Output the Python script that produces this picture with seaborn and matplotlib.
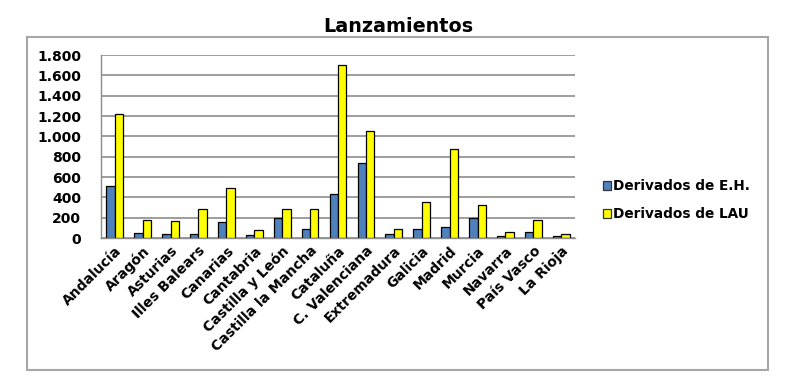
import numpy as np
import pandas as pd
import matplotlib
matplotlib.use("Agg")
import matplotlib.pyplot as plt
from matplotlib.ticker import FuncFormatter, FixedLocator
from matplotlib.patches import Rectangle
import seaborn as sns

regiones = ["Andalucía", "Aragón", "Asturias", "Illes Balears", "Canarias",
            "Cantabria", "Castilla y León", "Castilla la Mancha", "Cataluña",
            "C. Valenciana", "Extremadura", "Galicia", "Madrid", "Murcia",
            "Navarra", "País Vasco", "La Rioja"]
derivados_eh = [512, 49, 36, 40, 155, 33, 194, 92, 437, 742, 36, 89, 112, 197, 20, 56, 20]
derivados_lau = [1225, 174, 168, 283, 493, 76, 289, 289, 1701, 1058, 90, 355, 873, 322, 56, 181, 36]
series = ["Derivados de E.H.", "Derivados de LAU"]
colores = ["#4F81BD", "#FFFF00"]

df = pd.DataFrame({
    "region": regiones * 2,
    "valor": derivados_eh + derivados_lau,
    "serie": [series[0]] * len(regiones) + [series[1]] * len(regiones),
})

sns.set_style("white")
plt.rcParams["font.family"] = ["DejaVu Sans"]
plt.rcParams["text.color"] = "black"
plt.rcParams["xtick.color"] = "black"
plt.rcParams["ytick.color"] = "black"

fig = plt.figure(figsize=(8, 3.91), dpi=100)
ax = fig.add_axes([0.126, 0.391, 0.593, 0.468])

sns.barplot(data=df, x="region", y="valor", hue="serie", palette=colores,
            width=0.6, saturation=1, edgecolor="black", linewidth=0.9, ax=ax, legend=False)

ax.set_ylim(0, 1800)
ax.set_xlim(-0.5, len(regiones) - 0.5)
ax.set_yticks(np.arange(0, 1801, 200))
ax.yaxis.set_major_formatter(FuncFormatter(lambda v, p: f"{int(v):,}".replace(",", ".")))
ax.grid(axis="y", color="#8c8c8c", linewidth=1.2)
ax.set_axisbelow(True)
ax.set_xlabel("")
ax.set_ylabel("")

# tick marks between categories
ax.xaxis.set_minor_locator(FixedLocator(np.arange(-0.5, len(regiones), 1)))
ax.tick_params(axis="x", which="major", length=0, pad=4)
ax.tick_params(axis="x", which="minor", length=4, color="#8c8c8c", direction="out")
ax.tick_params(axis="y", length=4, color="#8c8c8c", labelcolor="black", direction="out", pad=10)
ax.set_xticks(range(len(regiones)))
ax.set_xticklabels(regiones, rotation=45, ha="right", rotation_mode="anchor",
                   fontsize=10, fontweight="bold", color="black")
for t in ax.get_yticklabels():
    t.set_fontsize(10)
    t.set_fontweight("bold")

for s in ["top", "right"]:
    ax.spines[s].set_visible(False)
for s in ["left", "bottom"]:
    ax.spines[s].set_color("#8c8c8c")
    ax.spines[s].set_linewidth(1.0)

handles = [Rectangle((0, 0), 1, 1, facecolor=c, edgecolor="#333333", linewidth=0.9) for c in colores]
fig.legend(handles, series, loc="center left", bbox_to_anchor=(0.738, 0.488),
           frameon=False, handlelength=0.6, handleheight=0.6, handletextpad=0.15,
           labelspacing=1.0, prop={"weight": "bold", "size": 9.8})

fig.text(0.4975, 1 - 26 / 391, "Lanzamientos", ha="center", va="center",
         fontsize=13.8, fontweight="bold", color="black")

fig.patches.append(Rectangle((27 / 800, 1 - 370 / 391), (768 - 27) / 800, (370 - 36.5) / 391,
                             transform=fig.transFigure, fill=False,
                             edgecolor="#a6a6a6", linewidth=1.5))

fig.savefig("out.png", dpi=100)
